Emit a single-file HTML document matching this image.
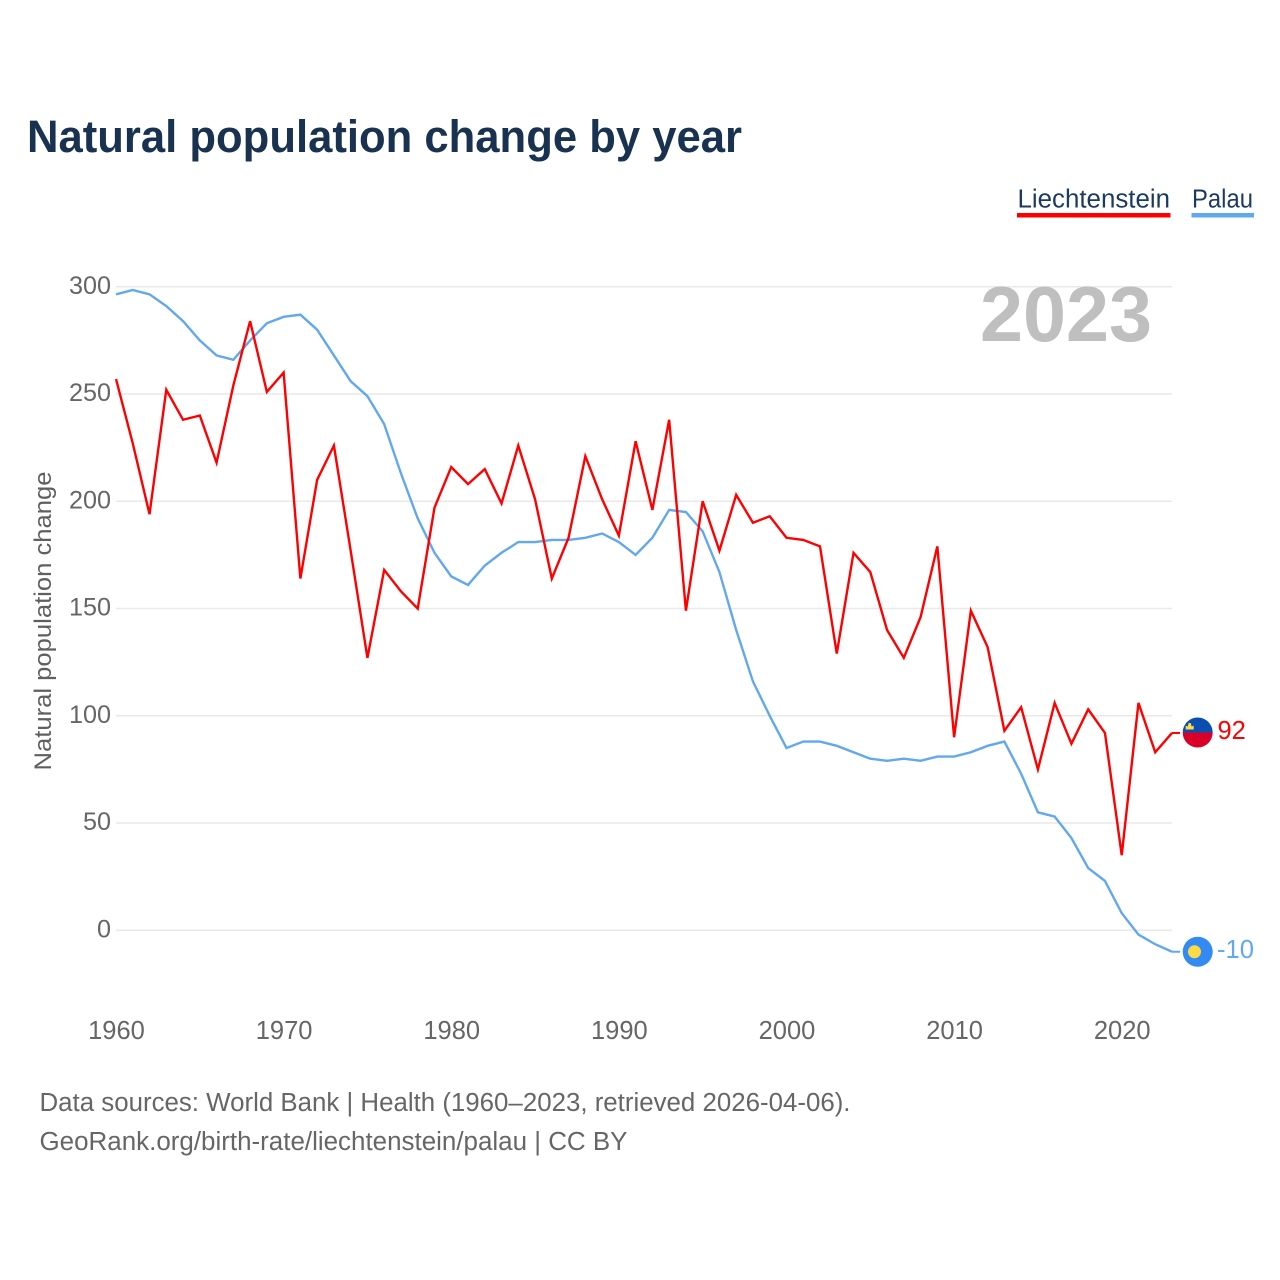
<!DOCTYPE html>
<html lang="en">
<head>
<meta charset="utf-8">
<title>Natural population change by year</title>
<style>
  html, body { margin: 0; padding: 0; background: #fff; }
  svg { display: block; font-family: "Liberation Sans", sans-serif; }
</style>
</head>
<body>
<svg id="chart" width="1280" height="1280" viewBox="0 0 1280 1280" xmlns="http://www.w3.org/2000/svg">
  <rect width="1280" height="1280" fill="#ffffff"/>
  <text x="27" y="152" font-size="45" font-weight="700" fill="#18324f" textLength="715" lengthAdjust="spacingAndGlyphs">Natural population change by year</text>

  <g id="grid"></g>
  <g id="y-ticks"></g>
  <g id="x-ticks"></g>

  <text x="980" y="341" font-size="78" font-weight="700" fill="#bfbfbf" textLength="172" lengthAdjust="spacingAndGlyphs">2023</text>

  <text transform="translate(51,770.5) rotate(-90)" font-size="24" fill="#5f5f5f" textLength="299" lengthAdjust="spacingAndGlyphs">Natural population change</text>

  <g>
    <text x="1017.5" y="207.5" font-size="25.5" fill="#1b3a5e" textLength="152.5" lengthAdjust="spacingAndGlyphs">Liechtenstein</text>
    <rect x="1017" y="213" width="153.5" height="4.5" fill="#ff0000"/>
  </g>
  <g>
    <text x="1192" y="207.5" font-size="25.5" fill="#1b3a5e" textLength="61" lengthAdjust="spacingAndGlyphs">Palau</text>
    <rect x="1191.5" y="213" width="62.5" height="4.5" fill="#62a8ec"/>
  </g>

  <g id="series"></g>
  <g id="ends"></g>

  <text x="39.5" y="1111" font-size="25.5" fill="#666666" textLength="811" lengthAdjust="spacingAndGlyphs">Data sources: World Bank | Health (1960–2023, retrieved 2026-04-06).</text>
  <text x="39.5" y="1150" font-size="25.5" fill="#666666" textLength="588" lengthAdjust="spacingAndGlyphs">GeoRank.org/birth-rate/liechtenstein/palau | CC BY</text>
</svg>

<script>
const startYear = 1960;
const liechtensteinValues = [257,227,194,252,238,240,218,254,284,251,260,164,210,226,177,127,168,158,150,197,216,208,215,199,226,201,164,183,221,201,184,228,196,238,149,200,177,203,190,193,183,182,179,129,176,167,140,127,146,179,90,149,132,93,104,75,106,87,103,92,35,106,83,92];
const palauValues = [296.5,298.5,296.5,291,284,275,268,266,275,283,286,287,280,268,256,249,236,213,192,176,165,161,170,176,181,181,182,182,183,185,181,175,183,196,195,186,167,140,116,100,85,88,88,86,83,80,79,80,79,81,81,83,86,88,73,55,53,43,29,23,8,-2,-6.5,-10];
const yTickValues = [0,50,100,150,200,250,300];
const xTickValues = [1960,1970,1980,1990,2000,2010,2020];

const NS = 'http://www.w3.org/2000/svg';
function xScale(year) { return 116 + (year - 1960) * 16.762; }
function yScale(v) { return 930.3 - v * 2.145; }
function make(tag, attrs, parent) {
  const el = document.createElementNS(NS, tag);
  for (const k in attrs) el.setAttribute(k, attrs[k]);
  parent.appendChild(el);
  return el;
}

const grid = document.getElementById('grid');
const yTicks = document.getElementById('y-ticks');
const xTicks = document.getElementById('x-ticks');
const seriesGroup = document.getElementById('series');
const ends = document.getElementById('ends');

yTickValues.forEach(function (v) {
  const line = make('line', {x1: 116, x2: 1172, y1: yScale(v), y2: yScale(v), stroke: '#e9e9e9', 'stroke-width': 1.5}, grid);
  
  
  const label = make('text', {x: 111, y: yScale(v) + 7, 'text-anchor': 'end', 'font-size': 25.2, fill: '#666666'}, yTicks);
  
  
  label.textContent = v;
});

xTickValues.forEach(function (year) {
  const label = make('text', {x: xScale(year) + 0.5, y: 1039, 'text-anchor': 'middle', 'font-size': 25.5, fill: '#666666'}, xTicks);
  
  
  label.textContent = year;
});

function drawLine(values, color, name) {
  const pts = values.map(function (v, i) { return xScale(startYear + i).toFixed(2) + ',' + yScale(v).toFixed(2); }).join(' ');
  const line = make('polyline', {points: pts, fill: 'none', stroke: color, 'stroke-width': 2.4, 'stroke-linejoin': 'miter'}, seriesGroup);
  
  
}
drawLine(palauValues, '#62a8ec', 'line-palau');
drawLine(liechtensteinValues, '#ff0000', 'line-liechtenstein');

const lastYear = startYear + liechtensteinValues.length - 1;
const lastX = xScale(lastYear);
const markerX = 1197.7;

// Liechtenstein end marker
const liLast = liechtensteinValues[liechtensteinValues.length - 1];
const liY = yScale(liLast);
const liDash = make('line', {x1: lastX, x2: 1180, y1: liY, y2: liY, stroke: '#ff0000', 'stroke-width': 2}, ends);


const liFlag = make('g', {transform: 'translate(' + markerX + ',' + (liY - 0.5) + ')'}, ends);


make('path', {d: 'M-15,0 A15,15 0 0 1 15,0 Z', fill: '#0a4fb0'}, liFlag);
make('path', {d: 'M-15,0 A15,15 0 0 0 15,0 Z', fill: '#d80027'}, liFlag);
make('path', {d: 'M-12,-3 L-12,-7 L-10,-6 L-9,-9.5 L-7,-9.5 L-6,-6 L-4,-7 L-4,-3 Z', fill: '#ffda44'}, liFlag);
const liLabel = make('text', {x: 1217.5, y: liY + 6, 'font-size': 25.5, fill: '#ff0000'}, ends);


liLabel.textContent = liLast;

// Palau end marker
const paLast = palauValues[palauValues.length - 1];
const paY = yScale(paLast);
const paDash = make('line', {x1: lastX, x2: 1180, y1: paY, y2: paY, stroke: '#62a8ec', 'stroke-width': 2}, ends);


const paFlag = make('g', {transform: 'translate(' + markerX + ',' + paY + ')'}, ends);


make('circle', {cx: 0, cy: 0, r: 15, fill: '#338af3'}, paFlag);
make('circle', {cx: -3.2, cy: 0, r: 6.5, fill: '#ffda44'}, paFlag);
const paLabel = make('text', {x: 1217, y: paY + 6, 'font-size': 25.5, fill: '#62a8ec', textLength: 37, lengthAdjust: 'spacingAndGlyphs'}, ends);


paLabel.textContent = paLast;
</script>
</body>
</html>
